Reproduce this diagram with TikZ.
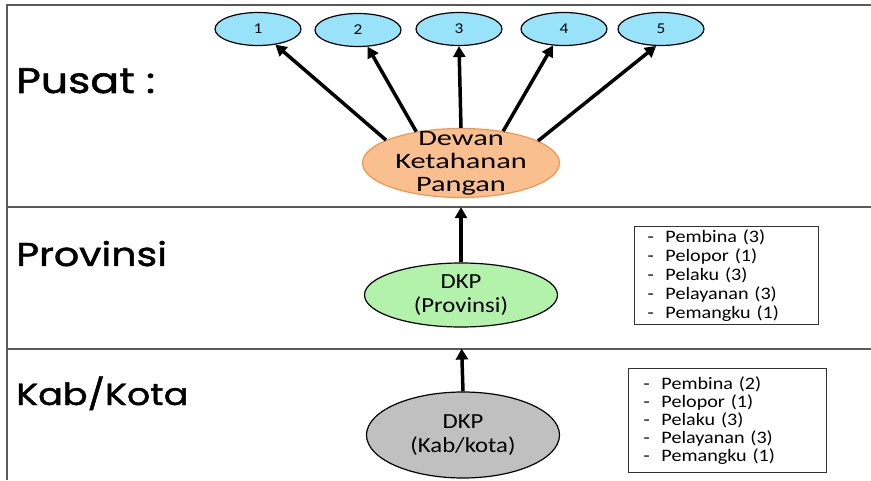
\documentclass[tikz,border=0pt]{standalone}
\usepackage{fontspec}
\setmainfont{Carlito}[FakeStretch=1.15]
\newfontfamily\widefont{Carlito}[FakeStretch=1.38]
\newfontfamily\lvlfont{Poppins}[FakeStretch=1.2,FakeBold=1.5]
\usetikzlibrary{shapes.geometric}
\usetikzlibrary{arrows.meta}
\definecolor{cyanfill}{RGB}{153,227,250}
\definecolor{orangefill}{RGB}{250,191,143}
\definecolor{orangeline}{RGB}{240,150,80}
\definecolor{greenfill}{RGB}{178,242,170}
\definecolor{grayfill}{RGB}{192,192,192}
\newcommand{\dashitem}[1]{\makebox[18pt][l]{-}#1}

\begin{document}
\begin{tikzpicture}[x=1pt,y=1pt,
  enode/.style={ellipse,draw=black,line width=1.2pt,align=center},
  numnode/.style={enode,fill=cyanfill,minimum width=86pt,minimum height=33pt,inner sep=0pt,font=\fontsize{15}{15}\selectfont},
  dkpnode/.style={enode,minimum width=193pt,inner sep=-6pt,font=\fontsize{21.5}{24}\selectfont},
  lbox/.style={rectangle,draw=black!80,line width=1pt,align=left,anchor=north west,font=\fontsize{17.5}{19}\selectfont},
  lvl/.style={anchor=base west,inner sep=0pt},
  frame/.style={draw=black!65,line width=1.5pt},
  arr/.style={line width=3.5pt,-{Triangle[length=11pt,width=12pt]}}]
  \useasboundingbox (0,0) rectangle (871,480);
  \draw[frame] (7,0) -- (7,475) -- (871,475);
  \draw[frame] (7,273) -- (871,273);
  \draw[frame] (7,131) -- (871,131);

  \node[lvl,font=\lvlfont\fontsize{35.5}{36}\selectfont] (pusat) at (16,387) {Pusat :};
  \node[lvl,font=\lvlfont\fontsize{33}{34}\selectfont] (provinsi) at (16,214) {Provinsi};
  \node[lvl,font=\lvlfont\fontsize{30.5}{31}\selectfont] (kabkota) at (16,75) {Kab/Kota};

  \node[numnode] (n1) at (258,451) {1};
  \node[numnode] (n2) at (358,450) {2};
  \node[numnode] (n3) at (459,451) {3};
  \node[numnode] (n4) at (564,451) {4};
  \node[numnode] (n5) at (661,451) {5};

  \node[enode,draw=orangeline,fill=orangefill,minimum width=197pt,minimum height=69pt,inner sep=-12pt,font=\widefont\fontsize{22}{23}\selectfont] (dkn) at (461,317) {Dewan\\Ketahanan\\Pangan};
  \node[dkpnode,fill=greenfill,minimum height=64pt] (dkpprov) at (461,185) {DKP\\(Provinsi)};
  \node[dkpnode,fill=grayfill,minimum height=86pt] (dkpkab) at (463,45) {DKP\\(Kab/kota)};

  \node[lbox,text width=158pt,inner xsep=13pt,minimum height=96pt] (provlist) at (634,254)
    {\dashitem{Pembina (3)}\\\dashitem{Pelopor (1)}\\\dashitem{Pelaku (3)}\\\dashitem{Pelayanan (3)}\\\dashitem{Pemangku (1)}};
  \node[lbox,text width=168pt,inner xsep=15pt,minimum height=104pt,font=\fontsize{17.5}{18}\selectfont] (kablist) at (628,112)
    {\dashitem{Pembina (2)}\\\dashitem{Pelopor (1)}\\\dashitem{Pelaku (3)}\\\dashitem{Pelayanan (3)}\\\dashitem{Pemangku (1)}};

  \draw[arr] (dkn.163) -- (n1.-42);
  \draw[arr] (dkn.145) -- (n2.-60);
  \draw[arr] (dkn.north) -- (n3.south);
  \draw[arr] (dkn.37) -- (n4.-124);
  \draw[arr] (dkn.16) -- (n5.-106);
  \draw[arr,shorten >=9pt] (dkpprov.north) -- (dkn.south);
  \draw[arr,shorten >=21pt] (dkpkab.north) -- (dkpprov.south);
\end{tikzpicture}
\end{document}
